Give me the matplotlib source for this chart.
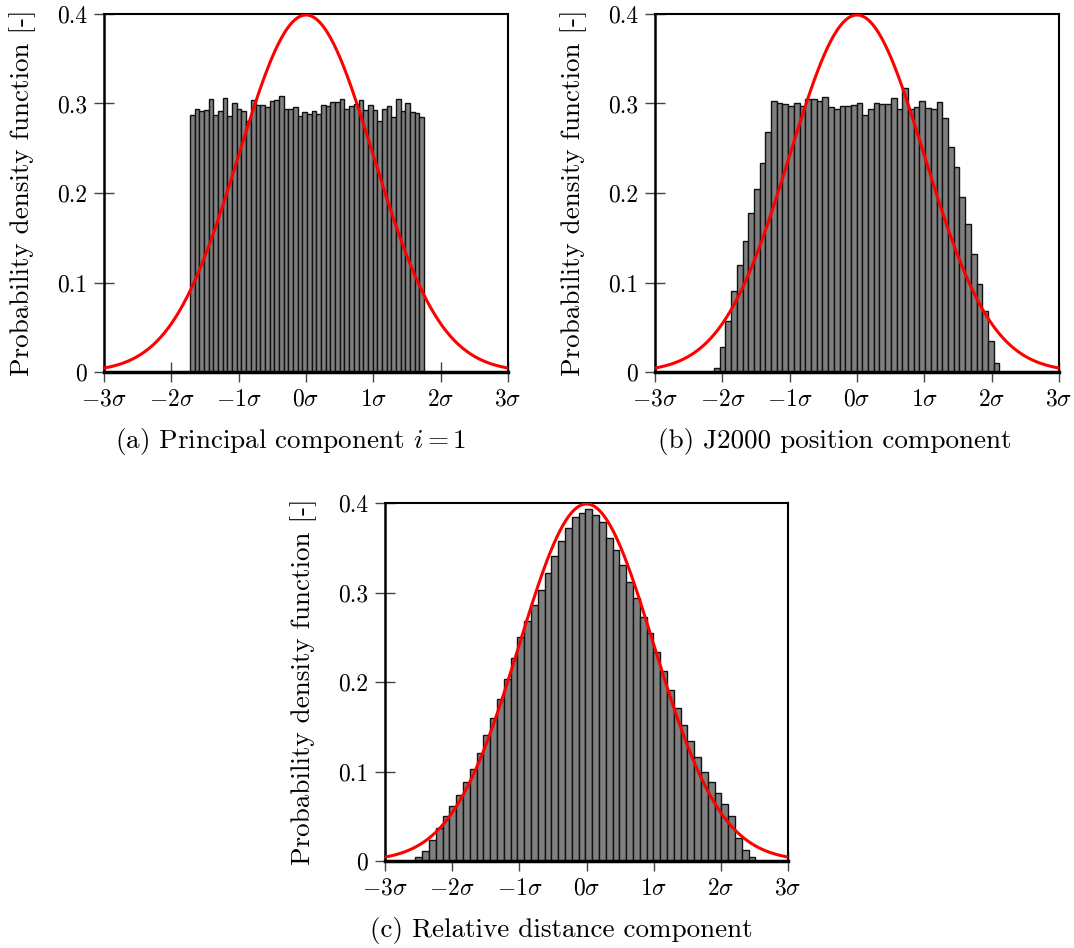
import numpy as np
import matplotlib.pyplot as plt

plt.rcParams['font.family'] = 'cmr10'
plt.rcParams['mathtext.fontset'] = 'cm'
plt.rcParams['axes.unicode_minus'] = False

# histogram heights (50 bins each) and bin ranges, in units of sigma
pc_range = (-1.723, 1.753)
pc_pdf = [0.2872, 0.2935, 0.2920, 0.2927, 0.3047, 0.2872, 0.2920, 0.3061, 0.2860, 0.3009,
          0.2939, 0.2920, 0.2808, 0.3039, 0.2983, 0.2983, 0.2957, 0.3032, 0.3039, 0.3084,
          0.2942, 0.2935, 0.2957, 0.2860, 0.2909, 0.2883, 0.2920, 0.2883, 0.2983, 0.2972,
          0.3020, 0.3020, 0.3047, 0.2942, 0.2972, 0.2994, 0.3039, 0.2927, 0.2987, 0.2927,
          0.2808, 0.2935, 0.2972, 0.2853, 0.3050, 0.2916, 0.3002, 0.2909, 0.2898, 0.2853]

j2000_range = (-2.124, 2.114)
j2000_pdf = [0.004, 0.028, 0.057, 0.091, 0.119, 0.146, 0.178, 0.205, 0.233, 0.2685,
             0.3028, 0.3010, 0.2994, 0.2972, 0.3002, 0.2972, 0.3050, 0.3047, 0.3028, 0.3069,
             0.2965, 0.2935, 0.2976, 0.2976, 0.2983, 0.3002, 0.2872, 0.2939, 0.3010, 0.2994,
             0.2994, 0.3058, 0.2939, 0.3177, 0.2939, 0.2965, 0.3032, 0.2954, 0.2939, 0.3013,
             0.2842, 0.2510, 0.2287, 0.196, 0.165, 0.1318, 0.098, 0.0682, 0.0346, 0.0104]

dist_range = (-2.547, 2.516)
dist_pdf = [0.004, 0.011, 0.023, 0.037, 0.050, 0.061, 0.074, 0.088, 0.103, 0.121,
            0.141, 0.160, 0.181, 0.203, 0.227, 0.250, 0.268, 0.286, 0.303, 0.322,
            0.341, 0.357, 0.372, 0.384, 0.389, 0.393, 0.387, 0.379, 0.361, 0.348,
            0.331, 0.312, 0.294, 0.273, 0.255, 0.233, 0.212, 0.191, 0.171, 0.152,
            0.134, 0.116, 0.100, 0.088, 0.076, 0.064, 0.050, 0.026, 0.012, 0.004]

xticks = [-3, -2, -1, 0, 1, 2, 3]
xticklabels = [r'$-3\sigma$', r'$-2\sigma$', r'$-1\sigma$', r'$0\sigma$',
               r'$1\sigma$', r'$2\sigma$', r'$3\sigma$']
yticks = [0, 0.1, 0.2, 0.3, 0.4]
yticklabels = ['0', '0.1', '0.2', '0.3', '0.4']

captions = [r'(a) Principal component $i = 1$',
            '(b) J2000 position component',
            '(c) Relative distance component']

fig = plt.figure(figsize=(10.74, 9.48), dpi=100)
W, H = 1074, 948
boxes = [(104, 14, 404, 358), (655, 14, 404, 358), (385, 503, 403, 358)]
# caption centres (x, y) in pixels from the top-left corner
cap_pos = [(291, 441), (835, 441), (561, 930)]
ranges = [pc_range, j2000_range, dist_range]
heights = [pc_pdf, j2000_pdf, dist_pdf]

xs = np.linspace(-3, 3, 400)
gauss = np.exp(-0.5 * xs**2) / np.sqrt(2 * np.pi)

for (l, t, w, h), rng, hv, cap, (cx, cy) in zip(boxes, ranges, heights, captions, cap_pos):
    ax = fig.add_axes([l / W, 1 - (t + h) / H, w / W, h / H])
    edges = np.linspace(rng[0], rng[1], len(hv) + 1)
    ax.bar(edges[:-1], hv, width=np.diff(edges), align='edge',
           color='#7f7f7f', edgecolor='#111111', linewidth=1.0, zorder=2)
    ax.plot(xs, gauss, color='red', lw=2.2, zorder=3)
    ax.set_xlim(-3, 3)
    ax.set_ylim(0, 0.4)
    ax.set_xticks(xticks)
    ax.set_xticklabels(xticklabels, fontsize=17)
    ax.set_yticks(yticks)
    ax.set_yticklabels(yticklabels, fontsize=17)
    ax.tick_params(direction='inout', length=14, width=1.0, color='#444444', pad=5)
    for s in ['top', 'right']:
        ax.spines[s].set_linewidth(1.5)
    ax.spines['left'].set_linewidth(1.8)
    ax.spines['bottom'].set_linewidth(2.5)
    ax.set_ylabel('Probability density function [-]', fontsize=19.5, labelpad=15)
    fig.text(cx / W, 1 - cy / H, cap, ha='center', va='center', fontsize=19.5)

fig.savefig('out.png', dpi=100)
